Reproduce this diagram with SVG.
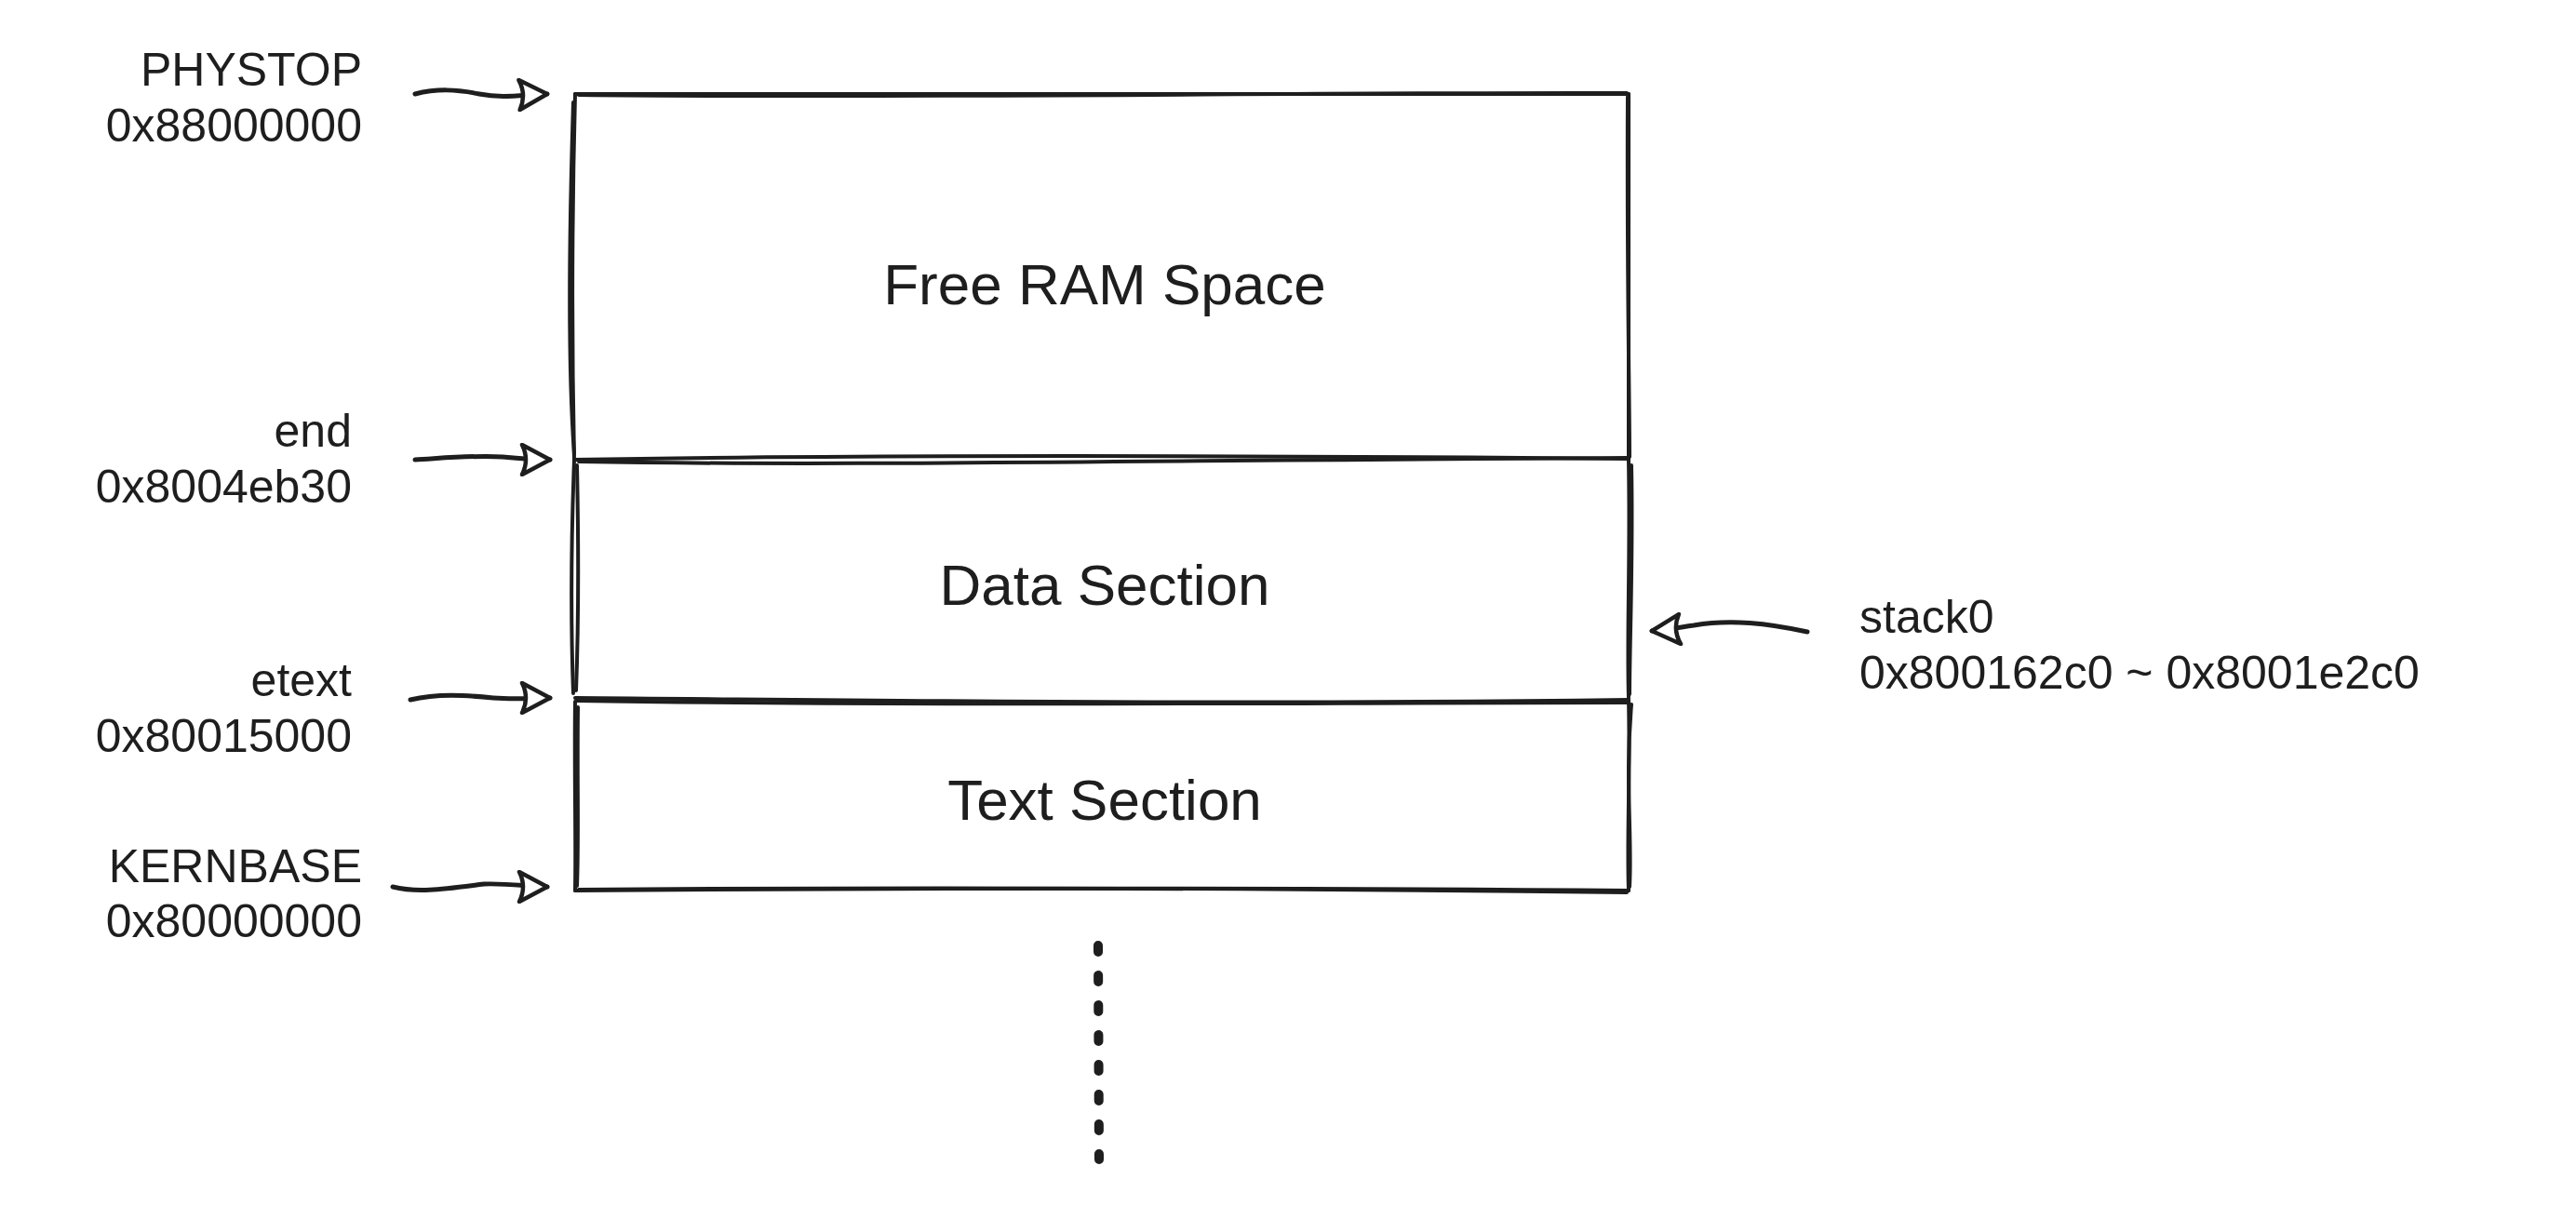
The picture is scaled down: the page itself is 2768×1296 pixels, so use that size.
<svg xmlns="http://www.w3.org/2000/svg" width="2768" height="1296" viewBox="0 0 2768 1296">
<style>
  .sk { fill: none; stroke: #1e1e1e; stroke-width: 4; stroke-linecap: round; stroke-linejoin: round; }
  .ar { fill: none; stroke: #1e1e1e; stroke-width: 5; stroke-linecap: round; }
  .lbl { font-family: "Liberation Sans", Arial, sans-serif; font-size: 50px; fill: #1e1e1e; }
  .ttl { font-family: "Liberation Sans", Arial, sans-serif; font-size: 62px; fill: #1e1e1e; text-anchor: middle; }
  .r { text-anchor: end; }
</style>
<defs>
  <marker id="head" viewBox="0 0 36 36" refX="33" refY="18" markerWidth="36" markerHeight="36" markerUnits="userSpaceOnUse" orient="auto">
    <path d="M3,2 L33,18 L3,34 Q11,18 3,2 Z" fill="#ffffff" stroke="#1e1e1e" stroke-width="4.5" stroke-linejoin="round"/>
  </marker>
</defs>
<rect width="2768" height="1296" fill="#ffffff"/>

<g id="free-ram">
  <path class="sk" d="M618,101 C900,99 1300,103 1750,101"/>
  <path class="sk" d="M622,102 C1000,106 1400,99 1748,100"/>
  <path class="sk" d="M1750,101 C1751,250 1749,400 1750,494"/>
  <path class="sk" d="M1749,104 C1748,300 1751,420 1751,491"/>
  <path class="sk" d="M618,101 C614,250 615,400 617,494"/>
  <path class="sk" d="M616,110 C610,300 612,420 617,488"/>
  <text class="ttl" x="1187" y="327">Free RAM Space</text>
</g>

<g id="data-section">
  <path class="sk" d="M617,494 C900,489 1300,489 1750,493"/>
  <path class="sk" d="M622,496 C900,501 1200,495 1748,492"/>
  <path class="sk" d="M1750,494 C1752,600 1748,680 1750,750"/>
  <path class="sk" d="M1753,500 C1755,600 1751,690 1751,746"/>
  <path class="sk" d="M617,494 C613,600 614,690 616,745"/>
  <path class="sk" d="M620,500 C622,600 621,690 619,742"/>
  <text class="ttl" x="1187" y="650">Data Section</text>
</g>

<g id="text-section">
  <path class="sk" d="M618,750 C900,752 1300,758 1750,752"/>
  <path class="sk" d="M620,753 C1000,759 1400,755 1748,755"/>
  <path class="sk" d="M1750,752 C1752,830 1748,900 1750,957"/>
  <path class="sk" d="M1753,757 C1746,840 1754,900 1751,953"/>
  <path class="sk" d="M618,754 C617,830 619,900 618,957"/>
  <path class="sk" d="M621,760 C620,840 622,900 620,952"/>
  <path class="sk" d="M618,957 C900,955 1300,953 1750,957"/>
  <path class="sk" d="M622,956 C1000,953 1400,955 1748,959"/>
  <text class="ttl" x="1187" y="881">Text Section</text>
</g>

<g id="label-phystop">
  <text class="lbl r" x="389" y="92">PHYSTOP</text>
  <text class="lbl r" x="389" y="152">0x88000000</text>
</g>
<g id="label-end">
  <text class="lbl r" x="378" y="480">end</text>
  <text class="lbl r" x="378" y="540">0x8004eb30</text>
</g>
<g id="label-etext">
  <text class="lbl r" x="378" y="748">etext</text>
  <text class="lbl r" x="378" y="808">0x80015000</text>
</g>
<g id="label-kernbase">
  <text class="lbl r" x="389" y="948">KERNBASE</text>
  <text class="lbl r" x="389" y="1007">0x80000000</text>
</g>
<g id="label-stack0">
  <text class="lbl" x="1998" y="680">stack0</text>
  <text class="lbl" x="1998" y="740">0x800162c0 ~ 0x8001e2c0</text>
</g>

<g id="connectors">
  <path class="ar" d="M446,101 C470,95 490,96 515,101 C540,106 560,102 588,101" marker-end="url(#head)"/>
  <path class="ar" d="M446,494 C480,492 510,489 540,491 C560,493 575,494 591,494" marker-end="url(#head)"/>
  <path class="ar" d="M441,752 C470,745 500,747 530,750 C555,752 575,750 591,750" marker-end="url(#head)"/>
  <path class="ar" d="M422,953 C450,960 480,955 520,950 C545,949 570,953 588,953" marker-end="url(#head)"/>
  <path class="ar" d="M1942,679 C1900,670 1860,665 1820,672 C1800,675 1790,677 1775,678" marker-end="url(#head)"/>
  <line x1="1180" y1="1016" x2="1181" y2="1246" stroke="#1e1e1e" stroke-width="10" stroke-linecap="round" stroke-dasharray="7 25"/>
</g>
</svg>
